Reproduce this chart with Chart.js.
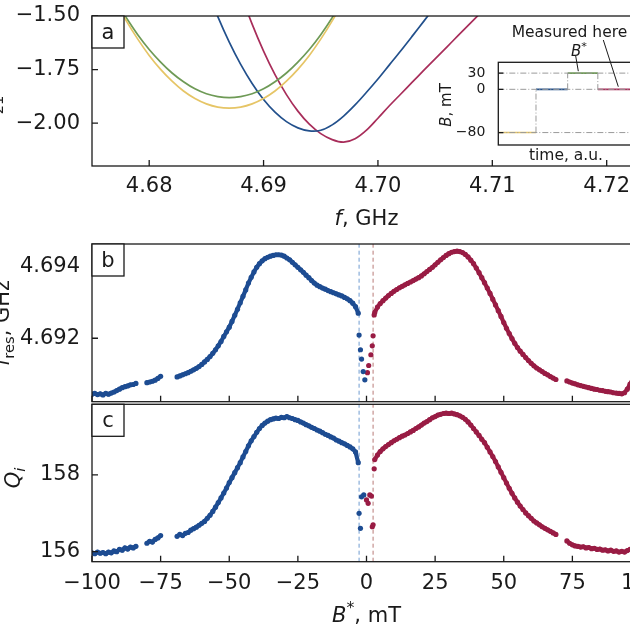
<!DOCTYPE html>
<html><head><meta charset="utf-8">
<script src="https://cdn.jsdelivr.net/npm/chart.js@4.4.1/dist/chart.umd.min.js"></script>
<style>
html,body{margin:0;padding:0;background:#fff;}
body{width:630px;height:630px;overflow:hidden;position:relative;}
canvas{position:absolute;}
</style></head><body>
<canvas id="pa" width="670" height="230" style="left:0;top:0"></canvas>
<canvas id="pb" width="670" height="200" style="left:0;top:230px"></canvas>
<canvas id="pc" width="670" height="240" style="left:0;top:390px"></canvas>
<canvas id="pi" width="240" height="170" style="left:420px;top:0"></canvas>
<script>
// ---------------- DATA ----------------
// Panel a: transmission dips vs frequency (GHz)
const fGrid = [4.675,4.676,4.677,4.678,4.679,4.680,4.681,4.682,4.683,4.684,4.685,4.686,4.687,4.688,4.689,4.690,4.691,4.692,4.693,4.694,4.695,4.696,4.697,4.698,4.699,4.700,4.701,4.702,4.703,4.704,4.705,4.706,4.707,4.708,4.709,4.710,4.711,4.712,4.713,4.714,4.715,4.716,4.717,4.718,4.719,4.720,4.721,4.722,4.723];
const s21Yellow = [-1.206,-1.322,-1.428,-1.523,-1.608,-1.684,-1.749,-1.804,-1.850,-1.885,-1.910,-1.925,-1.930,-1.925,-1.910,-1.885,-1.850,-1.804,-1.749,-1.684,-1.608,-1.523,-1.428,-1.322,-1.206];
const s21Green = [-1.219,-1.324,-1.421,-1.508,-1.587,-1.656,-1.715,-1.766,-1.807,-1.840,-1.863,-1.876,-1.881,-1.876,-1.863,-1.840,-1.807,-1.766,-1.715,-1.656,-1.587,-1.508,-1.421,-1.324,-1.219];
const s21Blue = [null,null,null,null,null,null,null,null,null,-1.22,-1.37,-1.503,-1.622,-1.726,-1.815,-1.890,-1.949,-1.993,-2.022,-2.036,-2.033,-2.008,-1.967,-1.915,-1.856,-1.794,-1.728,-1.662,-1.594,-1.525,-1.455,-1.385,-1.315];
const s21Red = [null,null,null,null,null,null,null,null,null,null,null,null,-1.24,-1.395,-1.538,-1.664,-1.774,-1.867,-1.944,-2.005,-2.049,-2.077,-2.089,-2.073,-2.033,-1.977,-1.919,-1.864,-1.809,-1.754,-1.700,-1.646,-1.592,-1.538,-1.484,-1.430,-1.376];
const aTicksX = [4.68,4.69,4.70,4.71,4.72];
const aTicksY = [-2.00,-1.75,-1.50];

// Inset: field history
const stepTimes = [0,1.25,2.30,3.30,4.4];
const stepFields = [-80,0,30,0];
const guideFields = [30,0,-80];
const insetTicksY = [-80,0,30];

// Panels b, c: vs B* (mT)
const fieldNeg = [-100,-99,-98,-97,-96,-95,-94,-93,-92,-91,-90,-89,-88,-87,-86,-85,-84,-83,-82,-81,-80,-79,-78,-77,-76,-75,-74,-73,-72,-71,-70,-69,-68,-67,-66,-65,-64,-63,-62,-61,-60,-59,-58,-57,-56,-55,-54,-53,-52,-51,-50,-49,-48,-47,-46,-45,-44,-43,-42,-41,-40,-39,-38,-37,-36,-35,-34,-33,-32,-31,-30,-29,-28,-27,-26,-25,-24,-23,-22,-21,-20,-19,-18,-17,-16,-15,-14,-13,-12,-11,-10,-9,-8,-7,-6,-5,-4,-3];
const fieldPos = [3,4,5,6,7,8,9,10,11,12,13,14,15,16,17,18,19,20,21,22,23,24,25,26,27,28,29,30,31,32,33,34,35,36,37,38,39,40,41,42,43,44,45,46,47,48,49,50,51,52,53,54,55,56,57,58,59,60,61,62,63,64,65,66,67,68,69,70,71,72,73,74,75,76,77,78,79,80,81,82,83,84,85,86,87,88,89,90,91,92,93,94,95,96,97,98,99,100];
const fResBlue = [4.69044,4.69046,4.69043,4.69045,4.69042,4.69046,4.69044,4.69047,4.69050,4.69054,4.69058,4.69062,4.69065,4.69067,4.69070,4.69071,4.69074,null,null,null,4.69076,4.69078,4.69080,4.69083,4.69088,4.69094,null,null,null,null,null,4.69092,4.69095,4.69098,4.69101,4.69104,4.69108,4.69112,4.69116,4.69121,4.69127,4.69134,4.69141,4.69149,4.69158,4.69168,4.69179,4.69191,4.69205,4.69218,4.69231,4.69247,4.69264,4.69281,4.69299,4.69317,4.69335,4.69354,4.69370,4.69385,4.69398,4.69408,4.69416,4.69422,4.69426,4.69429,4.69431,4.69433,4.69433,4.69432,4.69429,4.69424,4.69419,4.69412,4.69405,4.69398,4.69391,4.69384,4.69376,4.69369,4.69361,4.69354,4.69348,4.69344,4.69340,4.69337,4.69333,4.69330,4.69327,4.69324,4.69321,4.69318,4.69314,4.69310,4.69305,4.69298,4.69288,4.69270];
const fResRed = [4.69272,4.69287,4.69297,4.69305,4.69312,4.69319,4.69325,4.69331,4.69336,4.69341,4.69345,4.69349,4.69353,4.69357,4.69361,4.69365,4.69369,4.69374,4.69380,4.69386,4.69392,4.69398,4.69405,4.69412,4.69419,4.69425,4.69431,4.69436,4.69440,4.69442,4.69443,4.69442,4.69439,4.69434,4.69427,4.69418,4.69408,4.69396,4.69383,4.69369,4.69355,4.69340,4.69325,4.69309,4.69293,4.69277,4.69261,4.69244,4.69228,4.69213,4.69199,4.69186,4.69174,4.69164,4.69155,4.69146,4.69138,4.69130,4.69123,4.69117,4.69112,4.69107,4.69102,4.69098,4.69093,4.69089,4.69085,null,null,null,4.69081,4.69078,4.69075,4.69073,4.69070,4.69068,4.69066,4.69064,4.69062,4.69060,4.69058,4.69057,4.69055,4.69054,4.69052,4.69051,4.69050,4.69048,4.69047,4.69046,4.69045,4.69048,4.69058,4.69072,4.69086,4.69098,4.69108,4.69116];
const qBlue = [155.97,155.95,155.99,155.96,155.98,155.95,155.99,155.97,156.02,156.00,156.06,156.04,156.10,156.07,156.12,156.10,156.14,null,null,null,156.22,156.27,156.25,156.32,156.36,156.42,null,null,null,null,null,156.40,156.45,156.42,156.48,156.50,156.56,156.60,156.64,156.69,156.74,156.79,156.87,156.95,157.05,157.16,157.28,157.40,157.53,157.66,157.80,157.93,158.06,158.19,158.32,158.47,158.61,158.76,158.89,159.00,159.11,159.21,159.29,159.35,159.40,159.44,159.46,159.48,159.47,159.50,159.49,159.52,159.49,159.47,159.44,159.42,159.38,159.35,159.31,159.28,159.24,159.21,159.17,159.14,159.10,159.06,159.03,158.99,158.96,158.91,158.88,158.84,158.81,158.77,158.73,158.68,158.60,158.32];
const qRed = [158.40,158.52,158.61,158.68,158.74,158.79,158.84,158.89,158.93,158.97,159.01,159.04,159.08,159.12,159.16,159.21,159.25,159.30,159.35,159.39,159.44,159.49,159.52,159.56,159.58,159.60,159.61,159.60,159.61,159.59,159.57,159.54,159.50,159.45,159.38,159.30,159.21,159.12,159.03,158.93,158.84,158.72,158.60,158.48,158.35,158.21,158.07,157.93,157.79,157.65,157.52,157.40,157.29,157.19,157.10,157.01,156.94,156.87,156.80,156.75,156.70,156.65,156.61,156.57,156.53,156.49,156.45,null,null,null,156.28,156.22,156.18,156.15,156.14,156.12,156.13,156.10,156.11,156.08,156.09,156.06,156.07,156.04,156.05,156.02,156.04,156.01,156.02,155.99,156.01,155.99,156.03,156.06,156.10,156.14,156.17,156.20];
const bNearBlueB = [-2.7,-2.2,-1.8,-1.2,-0.6];
const bNearBlueF = [4.69209,4.69168,4.69142,4.69107,4.69084];
const bNearRedB = [0.35,0.8,1.6,2.1,2.4,2.8];
const bNearRedF = [4.69104,4.69124,4.69154,4.69179,4.69207,4.69265];
const cNearBlueB = [-2.7,-2.2,-1.8,-1.0];
const cNearBlueQ = [157.00,156.61,157.43,157.48];
const cNearRedB = [0.0,0.6,1.2,1.8,2.1,2.4,2.8];
const cNearRedQ = [157.35,157.26,157.48,157.45,156.65,156.70,158.16];
const markerFields = [-2.7,2.4];
const bcTicksX = [-100,-75,-50,-25,0,25,50,75,100];
const bTicksY = [4.692,4.694];
const cTicksY = [156,158];

// ---------------- STYLE / HELPERS ----------------
const INK = '#1a1a1a';
const FONT = 'DejaVu Sans';
const C_BLUE = '#1d4c92', C_RED = '#991c44';
const L_YEL = '#e6c566', L_GRN = '#6e9a56', L_BLUE = '#22508c', L_RED = '#a82d5a';
const minus = s => s.replace('-', '\u2212');
const toXY = (xs, ys) => xs.map((x, i) => ({x, y: (ys[i] === undefined ? null : ys[i])}));

function fontOf(p, base) { return (p.it ? 'italic ' : '') + (base * (p.s || 1)).toFixed(1) + 'px "' + FONT + '"'; }
function drawRich(ctx, t) {
  ctx.save();
  ctx.translate(t.x, t.y);
  if (t.rot) ctx.rotate(-Math.PI / 2);
  const w = t.parts.map(p => { ctx.font = fontOf(p, t.size); return ctx.measureText(p.t).width; });
  const total = w.reduce((a, b) => a + b, 0);
  let cx = t.align === 'left' ? 0 : -total / 2;
  ctx.fillStyle = INK; ctx.textBaseline = 'alphabetic'; ctx.textAlign = 'left';
  t.parts.forEach((p, i) => { ctx.font = fontOf(p, t.size); ctx.fillText(p.t, cx, p.dy || 0); cx += w[i]; });
  ctx.restore();
}

const decor = {
  id: 'decor',
  beforeDatasetsDraw(chart, args, o) {
    if (o.bg) {
      const a = chart.chartArea, ctx = chart.ctx;
      ctx.save(); ctx.fillStyle = '#fff';
      ctx.fillRect(a.left, a.top, a.right - a.left, a.bottom - a.top);
      ctx.restore();
    }
  },
  afterDatasetsDraw(chart, args, o) {
    const ctx = chart.ctx, a = chart.chartArea, xs = chart.scales.x, ys = chart.scales.y;
    ctx.save();
    ctx.strokeStyle = INK; ctx.lineWidth = 1.3;
    ctx.beginPath();
    (o.xTicks || []).forEach(v => { const px = xs.getPixelForValue(v); ctx.moveTo(px, a.bottom); ctx.lineTo(px, a.bottom - o.tick); });
    (o.yTicks || []).forEach(v => { const py = ys.getPixelForValue(v); ctx.moveTo(a.left, py); ctx.lineTo(a.left + o.tick, py); });
    ctx.stroke();
    ctx.strokeRect(a.left, a.top, a.right - a.left, a.bottom - a.top);
    if (o.label) {
      ctx.fillStyle = '#fff';
      ctx.fillRect(a.left, a.top, 32, 32);
      ctx.strokeRect(a.left, a.top, 32, 32);
      ctx.fillStyle = INK; ctx.font = '21px "' + FONT + '"';
      ctx.textAlign = 'center'; ctx.textBaseline = 'alphabetic';
      ctx.fillText(o.label, a.left + 16, a.top + 22.5);
    }
    (o.lines || []).forEach(l => { ctx.lineWidth = 1; ctx.beginPath(); ctx.moveTo(l[0], l[1]); ctx.lineTo(l[2], l[3]); ctx.stroke(); });
    ctx.restore();
    (o.texts || []).forEach(t => drawRich(ctx, t));
  }
};

function fixSize(prop, val) {
  return s => { s[prop] = val; s.paddingTop = 0; s.paddingBottom = 0; s.paddingLeft = 0; s.paddingRight = 0; };
}
function lin(min, max, ticks, fmt, size, pad, extra) {
  return Object.assign({
    type: 'linear', min, max,
    grid: {display: false, drawTicks: false}, border: {display: false},
    afterBuildTicks: s => { s.ticks = ticks.map(v => ({value: v})); },
    ticks: {autoSkip: false, maxRotation: 0, minRotation: 0, color: INK, font: {family: FONT, size}, padding: pad, callback: fmt}
  }, extra || {});
}
const baseOpts = {animation: false, responsive: false, events: []};

// ---------------- PANEL A ----------------
const lineDs = (ys, color) => ({data: toXY(fGrid, ys), showLine: true, borderColor: color, borderWidth: 1.7, pointRadius: 0, tension: 0.35, spanGaps: false});
new Chart(document.getElementById('pa'), {
  type: 'scatter',
  data: {datasets: [lineDs(s21Yellow, L_YEL), lineDs(s21Green, L_GRN), lineDs(s21Blue, L_BLUE), lineDs(s21Red, L_RED)]},
  options: Object.assign({}, baseOpts, {
    layout: {padding: {top: 16, right: 29, left: 0, bottom: 0}},
    scales: {
      x: lin(4.675, 4.723, aTicksX, v => v.toFixed(2), 21, 8, {afterFit: fixSize('height', 64)}),
      y: lin(-2.2, -1.5, aTicksY, v => minus(v.toFixed(2)), 21, 12, {afterFit: fixSize('width', 92)})
    },
    plugins: {legend: {display: false}, tooltip: {enabled: false},
      decor: {xTicks: aTicksX, yTicks: aTicksY, tick: 6, label: 'a',
        texts: [
          {parts: [{t: 'f', it: 1}, {t: ', GHz'}], x: 366.5, y: 225, size: 21},
          {parts: [{t: 'S', it: 1}, {t: '21', s: 0.7, dy: 5}, {t: ', dB'}], x: -2, y: 91, size: 21, rot: 1}
        ]}}
  }),
  plugins: [decor]
});

// ---------------- INSET ----------------
const stepColors = [L_YEL, L_BLUE, L_GRN, L_RED];
const GUIDE = '#9a9a9a';
const insetDs = [];
guideFields.forEach(g => insetDs.push({data: [{x: 0, y: g}, {x: 4.5, y: g}], showLine: true, borderColor: GUIDE, borderWidth: 1, borderDash: [6, 2, 1, 2], pointRadius: 0}));
for (let i = 1; i < stepFields.length; i++) {
  insetDs.push({data: [{x: stepTimes[i], y: stepFields[i - 1]}, {x: stepTimes[i], y: stepFields[i]}], showLine: true, borderColor: GUIDE, borderWidth: 1, borderDash: [6, 2, 1, 2], pointRadius: 0});
}
stepFields.forEach((f, i) => insetDs.push({data: [{x: stepTimes[i], y: f}, {x: stepTimes[i + 1], y: f}], showLine: true, borderColor: stepColors[i], borderWidth: 1.6, pointRadius: 0}));
new Chart(document.getElementById('pi'), {
  type: 'scatter',
  data: {datasets: insetDs},
  options: Object.assign({}, baseOpts, {
    layout: {padding: {top: 62.3, right: 26, left: 0, bottom: 0}},
    scales: {
      x: lin(0, 4.5, [], v => '', 14, 0, {ticks: {display: false}, afterFit: fixSize('height', 25)}),
      y: lin(-103, 50, insetTicksY, v => minus(v.toFixed(0)), 14, 13, {afterFit: fixSize('width', 78.3)})
    },
    plugins: {legend: {display: false}, tooltip: {enabled: false},
      decor: {yTicks: insetTicksY, tick: 5, bg: true,
        lines: [[183.3, 40, 198.3, 86.7], [155.7, 56, 158.3, 71.2]],
        texts: [
          {parts: [{t: 'Measured here'}], x: 91.7, y: 36.5, size: 15.5, align: 'left'},
          {parts: [{t: 'B', it: 1}, {t: '*', s: 0.75, dy: -6}], x: 159, y: 56, size: 15},
          {parts: [{t: 'time, a.u.'}], x: 146, y: 159.5, size: 15.5},
          {parts: [{t: 'B', it: 1}, {t: ', mT'}], x: 31, y: 105, size: 15, rot: 1}
        ]}}
  }),
  plugins: [decor]
});

// ---------------- PANELS B, C ----------------
const mainDs = (xs, ys, color) => ({data: toXY(xs, ys), showLine: true, spanGaps: false, borderColor: color, borderWidth: 4.2, pointRadius: 2.6, pointBorderWidth: 0, pointBackgroundColor: color, order: 1});
const dotDs = (xs, ys, color) => ({data: toXY(xs, ys), showLine: false, pointRadius: 2.6, pointBorderWidth: 0, pointBackgroundColor: color, order: 0});
const markDs = (b, lo, hi, color) => ({data: [{x: b, y: lo}, {x: b, y: hi}], showLine: true, borderColor: color, borderWidth: 1, borderDash: [4, 3], pointRadius: 0, order: 5});
const MARK_COLORS = ['#6f9bd0', '#b87a78'];

const bMin = 4.69023, bMax = 4.69463;
new Chart(document.getElementById('pb'), {
  type: 'scatter',
  data: {datasets: [
    markDs(markerFields[0], bMin, bMax, MARK_COLORS[0]), markDs(markerFields[1], bMin, bMax, MARK_COLORS[1]),
    mainDs(fieldNeg, fResBlue, C_BLUE), mainDs(fieldPos, fResRed, C_RED),
    dotDs(bNearBlueB, bNearBlueF, C_BLUE), dotDs(bNearRedB, bNearRedF, C_RED)
  ]},
  options: Object.assign({}, baseOpts, {
    layout: {padding: {top: 14, right: 29, left: 0, bottom: 28.3}},
    scales: {
      x: lin(-100, 100, bcTicksX, v => '', 21, 0, {ticks: {display: false}, afterFit: fixSize('height', 0)}),
      y: lin(bMin, bMax, bTicksY, v => v.toFixed(3), 21, 12, {afterFit: fixSize('width', 92)})
    },
    plugins: {legend: {display: false}, tooltip: {enabled: false},
      decor: {xTicks: bcTicksX, yTicks: bTicksY, tick: 6, label: 'b',
        texts: [{parts: [{t: 'f', it: 1}, {t: 'res', s: 0.7, dy: 5}, {t: ', GHz'}], x: 9, y: 93, size: 21, rot: 1}]}}
  }),
  plugins: [decor]
});

const cMin = 155.74, cMax = 159.84;
new Chart(document.getElementById('pc'), {
  type: 'scatter',
  data: {datasets: [
    markDs(markerFields[0], cMin, cMax, MARK_COLORS[0]), markDs(markerFields[1], cMin, cMax, MARK_COLORS[1]),
    mainDs(fieldNeg, qBlue, C_BLUE), mainDs(fieldPos, qRed, C_RED),
    dotDs(cNearBlueB, cNearBlueQ, C_BLUE), dotDs(cNearRedB, cNearRedQ, C_RED)
  ]},
  options: Object.assign({}, baseOpts, {
    layout: {padding: {top: 14.3, right: 29, left: 0, bottom: 0}},
    scales: {
      x: lin(-100, 100, bcTicksX, v => minus(v.toFixed(0)), 21, 9, {afterFit: fixSize('height', 68.3)}),
      y: lin(cMin, cMax, cTicksY, v => v.toFixed(0), 21, 12, {afterFit: fixSize('width', 92)})
    },
    plugins: {legend: {display: false}, tooltip: {enabled: false},
      decor: {xTicks: bcTicksX, yTicks: cTicksY, tick: 6, label: 'c',
        texts: [
          {parts: [{t: 'Q', it: 1}, {t: 'i', it: 1, s: 0.7, dy: 5}], x: 20, y: 88, size: 21, rot: 1},
          {parts: [{t: 'B', it: 1}, {t: '*', s: 0.75, dy: -9}, {t: ', mT'}], x: 366.5, y: 232, size: 21}
        ]}}
  }),
  plugins: [decor]
});
</script>
</body></html>
